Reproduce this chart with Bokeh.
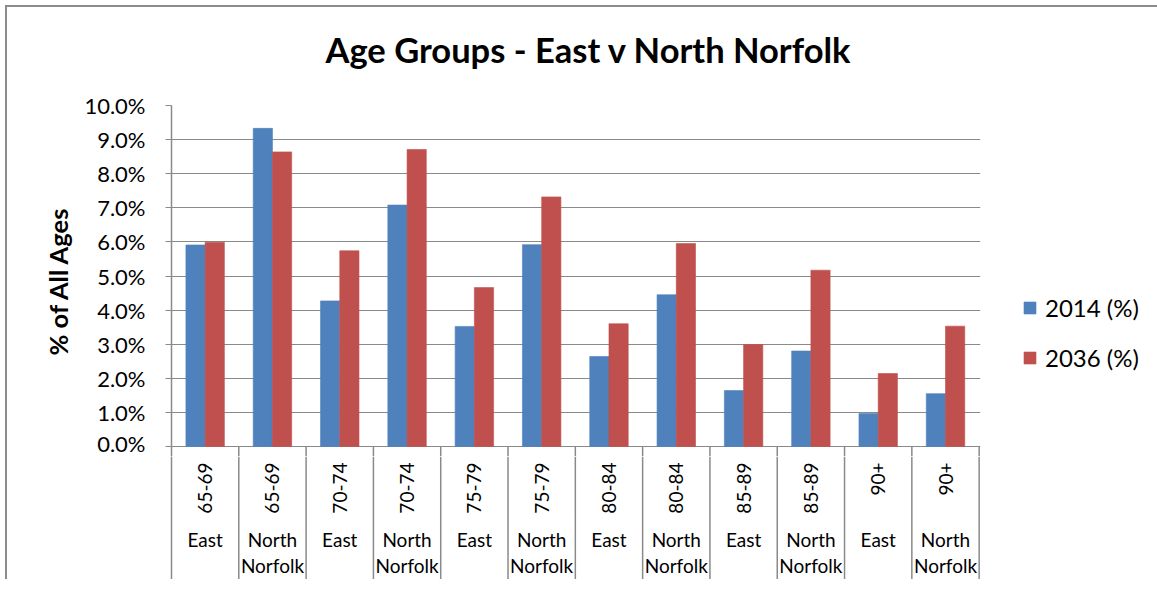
import math
from bokeh.plotting import figure
from bokeh.layouts import column
from bokeh.models import (FixedTicker, Legend, LegendItem, Range1d, ColumnDataSource, LinearAxis,
                          Title)
from bokeh.core.properties import value
from bokeh.embed import file_html
from bokeh.resources import INLINE

# ---- data ----
regions = ["East", "North Norfolk", "East", "North Norfolk", "East", "North Norfolk",
           "East", "North Norfolk", "East", "North Norfolk", "East", "North Norfolk"]
ages = ["65-69", "65-69", "70-74", "70-74", "75-79", "75-79",
        "80-84", "80-84", "85-89", "85-89", "90+", "90+"]
pct_2014 = [5.91, 9.33, 4.27, 7.08, 3.52, 5.92, 2.64, 4.45, 1.64, 2.80, 0.97, 1.55]
pct_2036 = [5.99, 8.64, 5.74, 8.71, 4.66, 7.32, 3.60, 5.95, 2.99, 5.17, 2.14, 3.53]
series_names = ["2014 (%)", "2036 (%)"]
y_ticks = [0, 1, 2, 3, 4, 5, 6, 7, 8, 9, 10]
y_tick_labels = ["0.0%", "1.0%", "2.0%", "3.0%", "4.0%", "5.0%", "6.0%",
                 "7.0%", "8.0%", "9.0%", "10.0%"]
title_text = "Age Groups - East v North Norfolk"
y_title = "% of All Ages"

FONT = "Lato"
GRID = "#8a8a8a"
BLUE = "#4F81BD"
RED = "#C0504D"

O = 8            # canvas origin on the page (3px + 5px margin)
n = len(ages)
bw = 1 / 3.5
centers = [i + 0.5 for i in range(n)]
XEND = n + 0.02
xr = Range1d(0, XEND)

FL, FR, FT, F0, FB = 172, 981, 106, 447, 580   # frame geometry on page
ppu = (F0 - FT) / 10.0
EXT = 10                                      # px of top figure below the 0 line
ybot = -EXT / ppu

MBL = FL - O
MBR = 1149 - FR

# ---------- top figure (bars) ----------
pt = figure(frame_width=FR - FL, frame_height=F0 + EXT - FT, output_backend="svg",
            toolbar_location=None, x_range=xr, y_range=Range1d(ybot, 10),
            min_border_left=MBL, min_border_right=MBR, min_border_top=FT - O,
            min_border_bottom=0, x_axis_location=None)
pt.outline_line_color = None

# spacer between the frame and the title
pt.add_layout(Title(text=" ", text_font_size="1px", standoff=28), "above")

pt.title.text = title_text
pt.title.text_font = FONT
pt.title.text_font_style = "bold"
pt.title.text_font_size = "34.5px"
pt.title.align = "left"
pt.title.offset = 154
pt.title.standoff = 10
pt.title.text_color = "black"

yax = pt.yaxis[0]
yax.ticker = FixedTicker(ticks=y_ticks)
yax.major_label_overrides = {t: l for t, l in zip(y_ticks, y_tick_labels)}
yax.major_label_text_font = FONT
yax.major_label_text_font_size = "22px"
yax.major_label_text_color = "black"
yax.major_tick_out = 6
yax.major_tick_in = 0
yax.minor_tick_line_color = None
yax.axis_line_color = GRID
yax.axis_line_width = 1.5
yax.major_tick_line_color = GRID
yax.major_label_standoff = 20
yax.axis_label = y_title
yax.axis_label_text_font = FONT
yax.axis_label_text_font_style = "bold"
yax.axis_label_text_font_size = "25.5px"
yax.axis_label_text_color = "black"
yax.axis_label_standoff = 8

pt.ygrid.ticker = FixedTicker(ticks=y_ticks)
pt.ygrid.grid_line_color = GRID
pt.xgrid.grid_line_color = None

src = ColumnDataSource(dict(xb=[c - bw / 2 for c in centers], xr=[c + bw / 2 for c in centers],
                            v14=pct_2014, v36=pct_2036))
r1 = pt.vbar(x="xb", top="v14", bottom=0, width=bw, source=src, fill_color=BLUE,
             line_color=BLUE, line_alpha=0.6, line_width=1)
r2 = pt.vbar(x="xr", top="v36", bottom=0, width=bw, source=src, fill_color=RED,
             line_color=RED, line_alpha=0.6, line_width=1)

bnd = list(range(1, n + 1))
pt.segment(x0=bnd, x1=bnd, y0=[0] * len(bnd), y1=[ybot] * len(bnd),
           line_color=GRID, line_width=1.5)

legend = Legend(items=[LegendItem(label=series_names[0], renderers=[r1]),
                       LegendItem(label=series_names[1], renderers=[r2])],
                location=(42, 84), orientation="vertical",
                glyph_width=15, glyph_height=15, label_height=15, spacing=21,
                label_standoff=8, padding=0, margin=0, border_line_color=None,
                background_fill_alpha=0, label_text_font=FONT,
                label_text_font_size="24px", label_text_color="black")
pt.add_layout(legend, "right")

# ---------- bottom figure (category labels) ----------
HB = FB - F0 - EXT
pb = figure(frame_width=FR - FL, frame_height=HB, output_backend="svg", toolbar_location=None,
            x_range=xr, y_range=Range1d(0, HB),
            min_border_left=MBL, min_border_right=MBR, min_border_top=0,
            min_border_bottom=0, x_axis_location=None, y_axis_location=None)
pb.outline_line_color = None
pb.grid.grid_line_color = None
pb.background_fill_alpha = 0
pb.border_fill_alpha = 0
ax = LinearAxis(ticker=FixedTicker(ticks=[]), axis_line_color=GRID, axis_line_width=1.5,
                major_tick_line_color=None, minor_tick_line_color=None,
                major_label_text_font_size="0px")
pb.add_layout(ax, "left")

pb.segment(x0=bnd, x1=bnd, y0=[0] * len(bnd), y1=[HB] * len(bnd),
           line_color=GRID, line_width=1.5)

pb.text(x=centers, y=[HB - 6] * n, text=ages, angle=math.pi / 2,
        text_align="right", text_baseline="middle", text_font=value(FONT),
        text_font_size="19px", text_color="black")
line1 = [r.split(" ")[0] for r in regions]
line2 = [r.split(" ")[1] if " " in r else "" for r in regions]
pb.text(x=centers, y=[HB - 83] * n, text=line1, text_align="center", text_baseline="middle",
        text_font=value(FONT), text_font_size="19px", text_color="black")
pb.text(x=centers, y=[HB - 109] * n, text=line2, text_align="center", text_baseline="middle",
        text_font=value(FONT), text_font_size="19px", text_color="black")

layout = column(pt, pb, spacing=0,
                styles={"margin-left": "5px", "margin-top": "5px",
                        "border-left": "2px solid #8c8c8c", "border-top": "2px solid #8c8c8c"})

open("out.html", "w").write(file_html(layout, INLINE))
